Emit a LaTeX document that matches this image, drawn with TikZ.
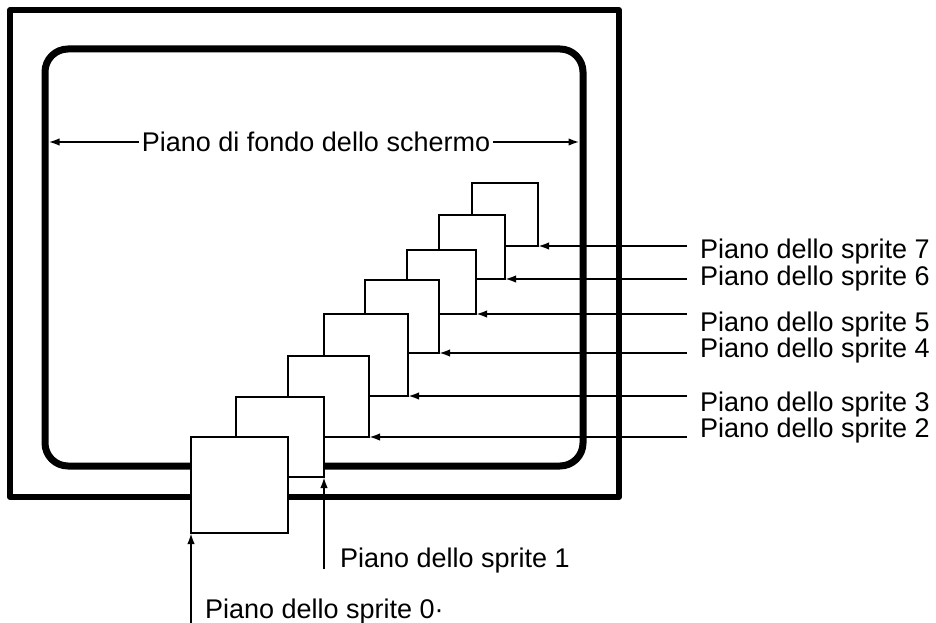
\documentclass[tikz,border=0pt]{standalone}
\usepackage{fontspec}
\setmainfont{Liberation Sans}
\usetikzlibrary{arrows.meta}
\begin{document}
\begin{tikzpicture}[x=1pt,y=-1pt,
  tvframe/.style={draw=black, line width=6pt, line join=round, inner sep=0pt, outer sep=0pt, anchor=north west},
  screenbox/.style={draw=black, line width=7pt, rounded corners=23pt, inner sep=0pt, outer sep=0pt, anchor=north west},
  spritebox/.style={draw=black, fill=white, line width=2.5pt, inner sep=0pt, outer sep=0pt, anchor=north west},
  lead/.style={draw=black, line width=2pt, -{Latex[length=11pt,width=7.5pt]}},
  lab/.style={font=\fontsize{27}{30}\selectfont, inner sep=0pt, outer sep=0pt},
]
\useasboundingbox (0,0) rectangle (936,623);

% frames
\node[tvframe, minimum width=609pt, minimum height=487pt] (tv) at (10,10) {};
\node[screenbox, minimum width=538pt, minimum height=417pt] (screen) at (45,49) {};

% sprite planes, back to front
\node[spritebox, minimum width=66pt, minimum height=63pt] (s7) at (472,183) {};
\node[spritebox, minimum width=66pt, minimum height=64pt] (s6) at (439,215) {};
\node[spritebox, minimum width=69pt, minimum height=64pt] (s5) at (407,250) {};
\node[spritebox, minimum width=74pt, minimum height=73pt] (s4) at (365,280) {};
\node[spritebox, minimum width=84pt, minimum height=82pt] (s3) at (324,314) {};
\node[spritebox, minimum width=81pt, minimum height=81pt] (s2) at (288,356) {};
\node[spritebox, minimum width=88pt, minimum height=80pt] (s1) at (236,397) {};
\node[spritebox, minimum width=97pt, minimum height=96pt] (s0) at (191,437) {};

% background plane label
\node[lab, text height=19.3pt, text depth=0pt, inner xsep=3pt] (bg) at (316,142) {Piano di fondo dello schermo};
\draw[lead, shorten >=3.5pt] (bg.west) -- (screen.west |- bg.west);
\draw[lead, shorten >=3.5pt] (bg.east) -- (screen.east |- bg.east);

% right side labels
\node[lab, anchor=base west] (l7) at (700,258.5) {Piano dello sprite 7};
\node[lab, anchor=base west] (l6) at (700,285.5) {Piano dello sprite 6};
\node[lab, anchor=base west] (l5) at (700,331) {Piano dello sprite 5};
\node[lab, anchor=base west] (l4) at (700,357) {Piano dello sprite 4};
\node[lab, anchor=base west] (l3) at (700,411) {Piano dello sprite 3};
\node[lab, anchor=base west] (l2) at (700,437.5) {Piano dello sprite 2};

\coordinate (e7) at (687,246);
\coordinate (e6) at (687,279);
\coordinate (e5) at (687,314);
\coordinate (e4) at (687,353);
\coordinate (e3) at (687,396);
\coordinate (e2) at (687,437);

\draw[lead] (e7) -- (s7.south east);
\draw[lead] (e6) -- (s6.south east);
\draw[lead] (e5) -- (s5.south east);
\draw[lead] (e4) -- (s4.south east);
\draw[lead] (e3) -- (s3.south east);
\draw[lead] (e2) -- (s2.south east);

% bottom labels
\node[lab, anchor=base west] (l1) at (340,567) {Piano dello sprite 1};
\node[lab, anchor=base west] (l0) at (205,618) {Piano dello sprite 0·};

\coordinate (e1) at (324,569);
\coordinate (e0) at (191,623);
\draw[lead] (e1) -- (s1.south east);
\draw[lead] (e0) -- (s0.south west);
\end{tikzpicture}
\end{document}
